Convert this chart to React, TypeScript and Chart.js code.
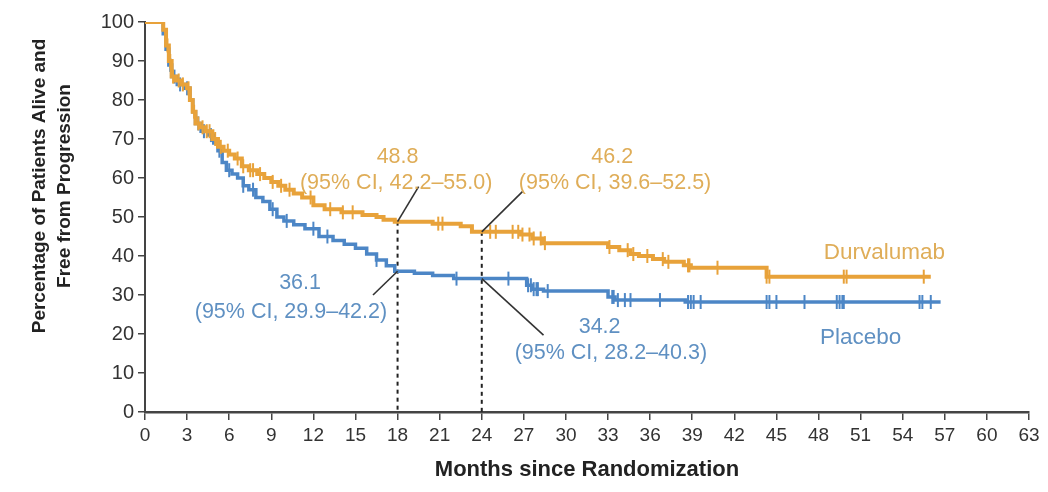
import React, { useEffect, useRef } from "react";
import { Chart, registerables } from "chart.js";

Chart.register(...registerables);

// Kaplan-Meier step points (months, % alive and free from progression)
const durTimes = [0, 1.3, 1.5, 1.7, 1.9, 2.2, 2.6, 3.0, 3.2, 3.4, 3.6, 3.9, 4.3, 4.8, 5.2, 5.6, 6.0, 6.4, 6.9, 7.4, 8.0, 8.5, 9.0, 9.5, 10.0, 10.6, 11.2, 12.0, 12.8, 14.0, 15.5, 16.5, 17.0, 17.8, 20.5, 22.5, 23.3, 26.8, 27.6, 28.3, 33.0, 33.8, 34.6, 35.2, 36.2, 37.0, 38.4, 38.9, 44.3, 56.0];
const durSurv = [100, 98, 94, 90, 86, 85, 84, 83, 80, 77, 74, 73, 72, 70, 68, 67, 66, 65, 63, 62, 61, 60, 59, 58, 57, 56, 55, 53, 52, 51.2, 50.5, 50, 49.3, 48.8, 48.3, 47.6, 46.2, 45.5, 44.5, 43.3, 42.3, 41.5, 40.5, 40, 39.2, 38.5, 37.6, 37, 34.7, 34.7];
const durCensor = [1.6, 1.8, 2.0, 2.4, 2.7, 3.1, 3.5, 3.8, 4.1, 4.4, 4.6, 5.0, 5.4, 5.9, 6.6, 7.0, 7.5, 7.7, 8.2, 9.1, 9.7, 10.3, 11.8, 13.2, 14.1, 14.8, 20.9, 21.2, 24.6, 25.0, 26.2, 26.6, 26.9, 27.4, 27.7, 28.2, 28.5, 33.1, 34.4, 34.8, 35.8, 36.9, 37.3, 38.7, 38.8, 40.8, 44.3, 44.5, 49.8, 50.0, 55.5];

const plaTimes = [0, 1.3, 1.5, 1.7, 1.9, 2.3, 2.8, 3.2, 3.4, 3.6, 4.0, 4.5, 4.9, 5.2, 5.5, 5.8, 6.2, 6.6, 7.0, 7.4, 7.9, 8.4, 8.9, 9.4, 9.9, 10.6, 11.4, 12.4, 13.4, 14.2, 15.0, 15.8, 16.5, 17.2, 17.8, 19.2, 20.5, 22.0, 27.2, 27.6, 28.4, 33.0, 33.5, 38.5, 56.7];
const plaSurv = [100, 97, 93, 89, 86, 84, 83, 80, 77, 74, 72, 71, 69, 67, 64, 62, 61, 60, 58, 57, 55, 54, 52, 50, 49, 48, 47, 45, 44, 43, 42, 40.5, 39, 37.5, 36.1, 35.6, 35, 34.2, 32.5, 31.5, 31, 29.5, 28.7, 28.2, 28.2];
const plaCensor = [1.8, 2.1, 2.5, 3.0, 3.8, 4.2, 4.7, 5.3, 6.0, 7.0, 7.7, 9.1, 10.1, 12.0, 13.0, 16.5, 22.2, 25.9, 27.3, 27.5, 27.7, 27.9, 28.0, 28.7, 33.3, 33.4, 33.7, 34.2, 34.6, 36.7, 38.7, 38.9, 39.1, 39.6, 44.3, 44.5, 45.0, 47.0, 49.3, 49.5, 49.7, 49.8, 55.2, 55.4, 56.0];

const xTickStep = 3;
const xMax = 63;
const yTickStep = 10;
const yMax = 100;

const seriesNames = ["Durvalumab", "Placebo"];
const markerMonths = [18, 24];
const durAtMarkers = ["48.8", "46.2"];
const durCI = ["(95% CI, 42.2–55.0)", "(95% CI, 39.6–52.5)"];
const plaAtMarkers = ["36.1", "34.2"];
const plaCI = ["(95% CI, 29.9–42.2)", "(95% CI, 28.2–40.3)"];
const xTitle = "Months since Randomization";
const yTitle = ["Percentage of Patients Alive and", "Free from Progression"];

const ORANGE = "#E8A23A";
const BLUE = "#4C86C6";
const ORANGE_TXT = "#DFAD58";
const BLUE_TXT = "#5F90C2";
const FONT = "'Liberation Sans', Arial, sans-serif";

function survAt(times: number[], surv: number[], t: number) {
  let v = surv[0];
  for (let i = 0; i < times.length; i++) {
    if (times[i] <= t) v = surv[i];
  }
  return v;
}

export default function App() {
  const ref = useRef<HTMLCanvasElement | null>(null);

  useEffect(() => {
    if (!ref.current) return;
    const durPts = durTimes.map((t, i) => ({ x: t, y: durSurv[i] }));
    const plaPts = plaTimes.map((t, i) => ({ x: t, y: plaSurv[i] }));
    const durC = durCensor.map((t) => ({ x: t, y: survAt(durTimes, durSurv, t) }));
    const plaC = plaCensor.map((t) => ({ x: t, y: survAt(plaTimes, plaSurv, t) }));

    const annot = {
      id: "annot",
      beforeDatasetsDraw(chart: any) {
        const { ctx, scales } = chart;
        const xs = scales.x, ys = scales.y;
        ctx.save();
        ctx.strokeStyle = "#222";
        ctx.lineWidth = 2;
        ctx.setLineDash([4, 4]);
        markerMonths.forEach((m, i) => {
          const v = parseFloat(durAtMarkers[i]);
          ctx.beginPath();
          ctx.moveTo(xs.getPixelForValue(m), ys.getPixelForValue(v));
          ctx.lineTo(xs.getPixelForValue(m), ys.getPixelForValue(0));
          ctx.stroke();
        });
        ctx.restore();
      },
      afterDatasetsDraw(chart: any) {
        const { ctx, scales } = chart;
        const xs = scales.x, ys = scales.y;
        const px = (m: number) => xs.getPixelForValue(m);
        const py = (v: number) => ys.getPixelForValue(v);
        ctx.save();
        // leader lines
        ctx.strokeStyle = "#333";
        ctx.lineWidth = 1.6;
        const leaders = [
          [18, 48.8, 19.5, 57.8],
          [24, 46.2, 26.9, 56.5],
          [18, 36.1, 16.25, 30.0],
          [24, 34.2, 28.4, 19.7],
        ];
        leaders.forEach(([a, b, c, d]) => {
          ctx.beginPath();
          ctx.moveTo(px(a), py(b));
          ctx.lineTo(px(c), py(d));
          ctx.stroke();
        });
        // annotation text
        ctx.textAlign = "center";
        ctx.textBaseline = "middle";
        ctx.font = `21.5px ${FONT}`;
        ctx.fillStyle = ORANGE_TXT;
        ctx.fillText(durAtMarkers[0], px(18.0), py(65.4));
        ctx.fillText(durCI[0], px(17.9), py(58.8));
        ctx.fillText(durAtMarkers[1], px(33.3), py(65.4));
        ctx.fillText(durCI[1], px(33.5), py(58.8));
        ctx.font = `22.5px ${FONT}`;
        ctx.fillText(seriesNames[0], px(52.7), py(40.8));
        ctx.fillStyle = BLUE_TXT;
        ctx.font = `21.5px ${FONT}`;
        ctx.fillText(plaAtMarkers[0], px(11.05), py(33.1));
        ctx.fillText(plaCI[0], px(10.4), py(25.6));
        ctx.fillText(plaAtMarkers[1], px(32.4), py(21.8));
        ctx.fillText(plaCI[1], px(33.2), py(15.1));
        ctx.font = `22.5px ${FONT}`;
        ctx.fillText(seriesNames[1], px(51.0), py(19.0));
        // axis titles
        ctx.fillStyle = "#222";
        ctx.font = `bold 22px ${FONT}`;
        ctx.fillText(xTitle, (chart.chartArea.left + chart.chartArea.right) / 2, 470);
        ctx.font = `bold 19px ${FONT}`;
        ctx.translate(40, 186);
        ctx.rotate(-Math.PI / 2);
        ctx.fillText(yTitle[0], 0, 0);
        ctx.fillText(yTitle[1], 0, 25);
        ctx.restore();
      },
    };

    const chart = new Chart(ref.current, {
      type: "line",
      data: {
        datasets: [
          {
            label: seriesNames[0],
            data: durPts,
            borderColor: ORANGE,
            borderWidth: 4,
            stepped: "before",
            pointRadius: 0,
            fill: false,
          },
          {
            label: seriesNames[0] + " censored",
            data: durC,
            type: "scatter",
            showLine: false,
            pointStyle: "line",
            rotation: 90,
            radius: 7,
            borderColor: ORANGE,
            borderWidth: 2,
          } as any,
          {
            label: seriesNames[1],
            data: plaPts,
            borderColor: BLUE,
            borderWidth: 3.5,
            stepped: "before",
            pointRadius: 0,
            fill: false,
          },
          {
            label: seriesNames[1] + " censored",
            data: plaC,
            type: "scatter",
            showLine: false,
            pointStyle: "line",
            rotation: 90,
            radius: 7,
            borderColor: BLUE,
            borderWidth: 2,
          } as any,
        ],
      },
      options: {
        animation: false,
        responsive: false,
        devicePixelRatio: 1,
        layout: { padding: { top: 22, right: 19, left: 0, bottom: 0 } },
        plugins: { legend: { display: false }, tooltip: { enabled: false } },
        scales: {
          x: {
            type: "linear",
            min: 0,
            max: xMax,
            afterFit: (s: any) => { s.height = 80; },
            ticks: {
              stepSize: xTickStep,
              color: "#333",
              font: { family: FONT, size: 19 },
              padding: 4,
              maxRotation: 0,
              autoSkip: false,
            },
            grid: { display: true, drawOnChartArea: false, drawTicks: true, tickLength: 8, color: "#444", lineWidth: 1.5 },
            border: { display: true, color: "#444", width: 2.5 },
          },
          y: {
            type: "linear",
            min: 0,
            max: yMax,
            afterFit: (s: any) => { s.width = 145; },
            ticks: {
              stepSize: yTickStep,
              color: "#333",
              font: { family: FONT, size: 20 },
              padding: 4,
            },
            grid: { display: true, drawOnChartArea: false, drawTicks: true, tickLength: 7, color: "#444", lineWidth: 1.5 },
            border: { display: true, color: "#444", width: 2 },
          },
        },
      },
      plugins: [annot],
    });
    return () => chart.destroy();
  }, []);

  return (
    <div style={{ position: "absolute", left: 0, top: 0, width: 1048, height: 492, background: "#fff" }}>
      <canvas ref={ref} width={1048} height={492} />
    </div>
  );
}
